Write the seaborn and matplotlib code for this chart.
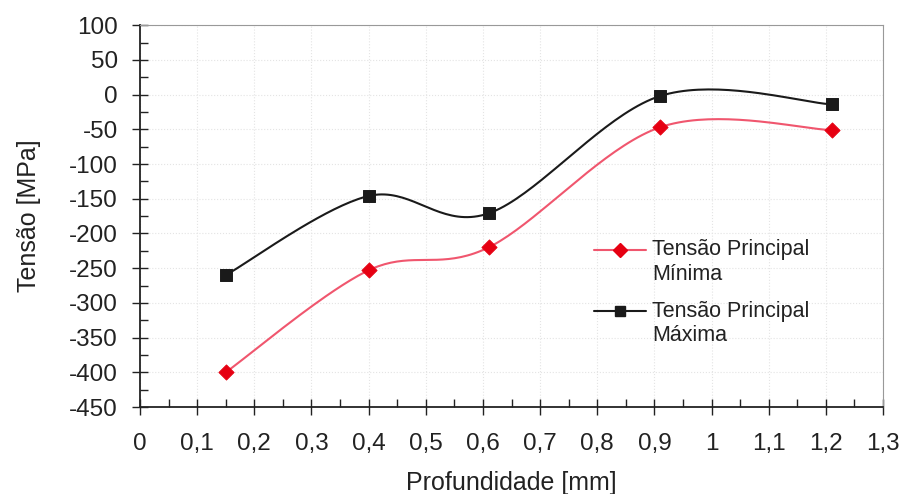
import numpy as np
import pandas as pd
import seaborn as sns
from matplotlib import pyplot as plt
from matplotlib.lines import Line2D
from matplotlib.legend_handler import HandlerLine2D
from matplotlib.ticker import MultipleLocator, FuncFormatter

depth = [0.15, 0.40, 0.61, 0.91, 1.21]
tensao_min = [-400, -253, -220, -47, -51]
tensao_max = [-260, -146, -171, -2, -14]

label_min = "Tensão Principal\nMínima"
label_max = "Tensão Principal\nMáxima"


def smooth_curve(xs, ys, steps=40):
    # Excel-style smoothed line (Catmull-Rom through the points)
    pts = np.column_stack([xs, ys]).astype(float)
    pts = np.vstack([pts[0], pts, pts[-1]])
    out = []
    for i in range(1, len(pts) - 2):
        p0, p1, p2, p3 = pts[i - 1], pts[i], pts[i + 1], pts[i + 2]
        t = np.linspace(0, 1, steps)[:, None]
        c1 = p1 + (p2 - p0) / 6
        c2 = p2 - (p3 - p1) / 6
        seg = ((1 - t) ** 3) * p1 + 3 * ((1 - t) ** 2) * t * c1 + 3 * (1 - t) * t ** 2 * c2 + t ** 3 * p2
        out.append(seg if i == 1 else seg[1:])
    seg = np.vstack(out)
    return pd.DataFrame({"x": seg[:, 0], "y": seg[:, 1]})


class TopLineHandler(HandlerLine2D):
    # put the legend handle next to the first line of a two-line label
    def create_artists(self, legend, orig_handle, xdescent, ydescent, width, height, fontsize, trans):
        return super().create_artists(legend, orig_handle, xdescent, ydescent - 1.15 * fontsize,
                                      width, height, fontsize, trans)


def main():
    sns.set_style("white")
    plt.rcParams['font.family'] = ['Liberation Sans', 'DejaVu Sans']
    plt.rcParams['axes.unicode_minus'] = False

    fig = plt.figure(figsize=(9.05, 4.94), dpi=100)
    ax = fig.add_axes([0.1547, 0.176, 0.821, 0.773])

    red_line, red_mark = '#f0566e', '#e60012'
    black = '#1a1a1a'
    text_col = '#222222'

    sns.lineplot(data=smooth_curve(depth, tensao_min), x="x", y="y", sort=False,
                 color=red_line, linewidth=1.5, ax=ax)
    sns.lineplot(data=smooth_curve(depth, tensao_max), x="x", y="y", sort=False,
                 color=black, linewidth=1.5, ax=ax)
    sns.scatterplot(x=depth, y=tensao_min, marker='D', s=60, color=red_mark,
                    edgecolor=red_mark, zorder=5, ax=ax)
    sns.scatterplot(x=depth, y=tensao_max, marker='s', s=75, color=black,
                    edgecolor=black, zorder=5, ax=ax)

    ax.set_xlim(0, 1.3)
    ax.set_ylim(-450, 100)
    ax.xaxis.set_major_locator(MultipleLocator(0.1))
    ax.xaxis.set_minor_locator(MultipleLocator(0.05))
    ax.yaxis.set_major_locator(MultipleLocator(50))
    ax.yaxis.set_minor_locator(MultipleLocator(25))
    ax.xaxis.set_major_formatter(FuncFormatter(lambda v, p: f"{v:.1f}".rstrip('0').rstrip('.').replace('.', ',')))

    ax.tick_params(which='both', bottom=True, left=True)
    ax.tick_params(which='major', direction='inout', length=12, width=1, colors=text_col,
                   labelsize=17.5, labelcolor=text_col)
    ax.tick_params(which='minor', direction='in', length=6, width=1, colors=text_col)
    ax.tick_params(axis='x', which='major', pad=13)
    ax.tick_params(axis='y', which='major', pad=10)

    ax.grid(True, which='major', linestyle=':', color='#e4e4e4', linewidth=0.8)
    for side in ['left', 'bottom']:
        ax.spines[side].set_color(text_col)
        ax.spines[side].set_linewidth(1.3)
    for side in ['top', 'right']:
        ax.spines[side].set_color('#999999')
        ax.spines[side].set_linewidth(0.8)

    ax.set_xlabel("Profundidade [mm]", fontsize=18, color=text_col, labelpad=11)
    ax.set_ylabel("Tensão [MPa]", fontsize=18, color=text_col, labelpad=20)

    handles = [
        Line2D([0], [0], color=red_line, marker='D', markersize=7,
               markerfacecolor=red_mark, markeredgecolor=red_mark, linewidth=1.5),
        Line2D([0], [0], color=black, marker='s', markersize=7,
               markerfacecolor=black, markeredgecolor=black, linewidth=1.5),
    ]
    leg = ax.legend(handles, [label_min, label_max], loc='upper left',
                    bbox_to_anchor=(0.585, 0.49), frameon=False, fontsize=15.5,
                    handlelength=2.4, labelspacing=0.75, handletextpad=0.3,
                    handler_map={Line2D: TopLineHandler()})
    for t in leg.get_texts():
        t.set_color(text_col)

    fig.savefig("out.png", dpi=100)


if __name__ == '__main__':
    main()
